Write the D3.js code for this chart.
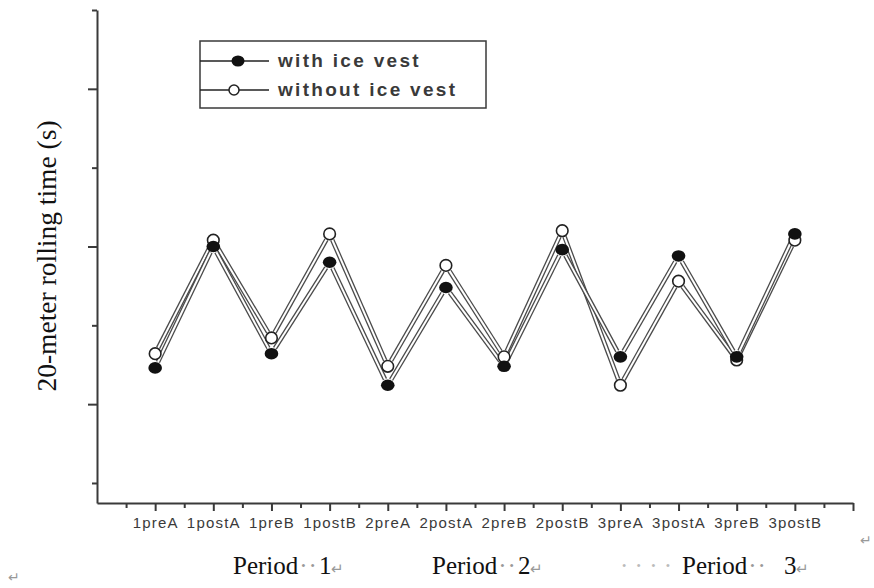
<!DOCTYPE html>
<html>
<head>
<meta charset="utf-8">
<script src="https://cdn.jsdelivr.net/npm/d3@7"></script>
<style>
  body { margin: 0; background: #fff; }
  svg { display: block; }
</style>
</head>
<body>
<svg id="chart" width="874" height="588"></svg>
<script>
// Test occasions (period number + pre/post + test A/B)
const categories = ["1preA", "1postA", "1preB", "1postB", "2preA", "2postA",
                    "2preB", "2postB", "3preA", "3postA", "3preB", "3postB"];
// 20-meter rolling time, seconds
const withVest    = [4.115, 4.50, 4.16, 4.45, 4.06, 4.37, 4.12, 4.49, 4.15, 4.47, 4.15, 4.54];
const withoutVest = [4.16, 4.52, 4.21, 4.54, 4.12, 4.44, 4.15, 4.55, 4.06, 4.39, 4.14, 4.52];
const seriesNames = ["with ice vest", "without ice vest"];
const yMajorTicks = [4.0, 4.5, 5.0];
const yMinorTicks = [3.75, 4.25, 4.75, 5.25];
const periodLabels = ["1", "2", "3"];
const yTitle = "20-meter rolling time (s)";

const svg = d3.select("#chart");
const axisColor = "#3a3a3a";

const x = d3.scaleLinear().domain([0, 13]).range([97, 853]);
const y = d3.scaleLinear().domain([3.6865, 5.25]).range([503, 10]);

// ---- axes ----
const xMajor = d3.range(1, 13);
const xMinor = d3.range(0, 13).map(d => d + 0.5);

const gxMinor = svg.append("g").attr("transform", `translate(0,${y.range()[0]})`)
  .call(d3.axisBottom(x).tickValues(xMinor).tickSize(5).tickSizeOuter(0).tickFormat(""));
const gxMajor = svg.append("g").attr("transform", `translate(0,${y.range()[0]})`)
  .call(d3.axisBottom(x).tickValues(xMajor.concat([13])).tickSize(8).tickSizeOuter(0)
        .tickFormat(d => d <= 12 ? categories[d - 1] : ""));
gxMinor.select(".domain").remove();

const gyMinor = svg.append("g").attr("transform", `translate(${x(0)},0)`)
  .call(d3.axisLeft(y).tickValues(yMinorTicks).tickSize(5).tickSizeOuter(0).tickFormat(""));
const gyMajor = svg.append("g").attr("transform", `translate(${x(0)},0)`)
  .call(d3.axisLeft(y).tickValues(yMajorTicks).tickSize(9).tickSizeOuter(0).tickFormat(""));
gyMinor.select(".domain").remove();

svg.selectAll(".domain").attr("stroke", axisColor).attr("stroke-width", 2);
svg.selectAll(".tick line").attr("stroke", axisColor).attr("stroke-width", 2);
gxMajor.selectAll(".tick text")
  .attr("fill", "#3a3a3a")
  .attr("font-family", "Liberation Sans, Arial, sans-serif")
  .attr("font-size", 15)
  .attr("letter-spacing", 1.2)
  .attr("dy", "0.92em");

// ---- y-axis title ----
svg.append("text")
  .attr("transform", "translate(56,256) rotate(-90)")
  .attr("text-anchor", "middle")
  .attr("font-family", "Liberation Serif, Times New Roman, serif")
  .attr("font-size", 27.5)
  .attr("fill", "#111")
  .text(yTitle);

// ---- series lines (double-stroked, stopping short of the markers) ----
const gap = 6.5;
function segments(vals) {
  const segs = [];
  for (let i = 0; i < vals.length - 1; i++) {
    const x0 = x(i + 1), y0 = y(vals[i]), x1 = x(i + 2), y1 = y(vals[i + 1]);
    const len = Math.hypot(x1 - x0, y1 - y0);
    const ux = (x1 - x0) / len, uy = (y1 - y0) / len;
    segs.push([x0 + ux * gap, y0 + uy * gap, x1 - ux * gap, y1 - uy * gap]);
  }
  return segs;
}
const lineLayer = svg.append("g");
[withoutVest, withVest].forEach(vals => {
  const segs = segments(vals);
  lineLayer.append("g").selectAll("line").data(segs).join("line")
    .attr("x1", d => d[0]).attr("y1", d => d[1]).attr("x2", d => d[2]).attr("y2", d => d[3])
    .attr("stroke", "#4a4a4a").attr("stroke-width", 4.6);
  lineLayer.append("g").selectAll("line").data(segs).join("line")
    .attr("x1", d => d[0]).attr("y1", d => d[1]).attr("x2", d => d[2]).attr("y2", d => d[3])
    .attr("stroke", "#fff").attr("stroke-width", 2);
});

// ---- markers ----
svg.append("g").selectAll("circle").data(withoutVest).join("circle")
  .attr("cx", (d, i) => x(i + 1)).attr("cy", d => y(d)).attr("r", 5.8)
  .attr("fill", "#fff").attr("stroke", "#222").attr("stroke-width", 1.6);
svg.append("g").selectAll("ellipse").data(withVest).join("ellipse")
  .attr("cx", (d, i) => x(i + 1)).attr("cy", d => y(d)).attr("rx", 6.8).attr("ry", 5.8)
  .attr("fill", "#111");

// ---- legend ----
const lg = svg.append("g");
lg.append("rect").attr("x", 200).attr("y", 41).attr("width", 286).attr("height", 67)
  .attr("fill", "#fff").attr("stroke", axisColor).attr("stroke-width", 1.5);
const rows = [61, 90];
rows.forEach((ry, i) => {
  lg.append("line").attr("x1", 200).attr("x2", 269).attr("y1", ry).attr("y2", ry)
    .attr("stroke", "#222").attr("stroke-width", 1.5);
  if (i === 0) {
    lg.append("ellipse").attr("cx", 238).attr("cy", ry).attr("rx", 6.5).attr("ry", 5.5).attr("fill", "#111");
  } else {
    lg.append("circle").attr("cx", 234).attr("cy", ry).attr("r", 5).attr("fill", "#fff")
      .attr("stroke", "#222").attr("stroke-width", 1.5);
  }
  lg.append("text").attr("x", 278).attr("y", ry + 6)
    .attr("font-family", "Liberation Sans, Arial, sans-serif")
    .attr("font-size", 19).attr("font-weight", "bold").attr("letter-spacing", 2.3)
    .attr("fill", "#3a3a3a").text(seriesNames[i]);
});

// ---- period labels under the axis ----
const periodX = [233, 432, 682];
const numberGap = [2, 2, 18];
const pg = svg.append("g")
  .attr("font-family", "Liberation Serif, Times New Roman, serif")
  .attr("font-size", 25).attr("fill", "#111");
periodLabels.forEach((p, i) => {
  const t = pg.append("text").attr("y", 574);
  if (i === 2) {
    t.append("tspan").attr("x", periodX[i] - 62).attr("fill", "#bbb").text("· · · · ");
  }
  t.append("tspan").attr("x", periodX[i]).text("Period");
  t.append("tspan").attr("fill", "#999").attr("dx", 1).text("·");
  t.append("tspan").attr("fill", "#999").attr("dx", 1).text("·");
  t.append("tspan").attr("dx", numberGap[i]).text(p);
  t.append("tspan").attr("fill", "#999").attr("font-size", 15).text("↵");
});

// paragraph marks
svg.append("text").attr("x", 8).attr("y", 582).attr("font-size", 14).attr("fill", "#999")
  .attr("font-family", "DejaVu Sans, sans-serif").text("↵");
svg.append("text").attr("x", 860).attr("y", 545).attr("font-size", 14).attr("fill", "#999")
  .attr("font-family", "DejaVu Sans, sans-serif").text("↵");
</script>
</body>
</html>
